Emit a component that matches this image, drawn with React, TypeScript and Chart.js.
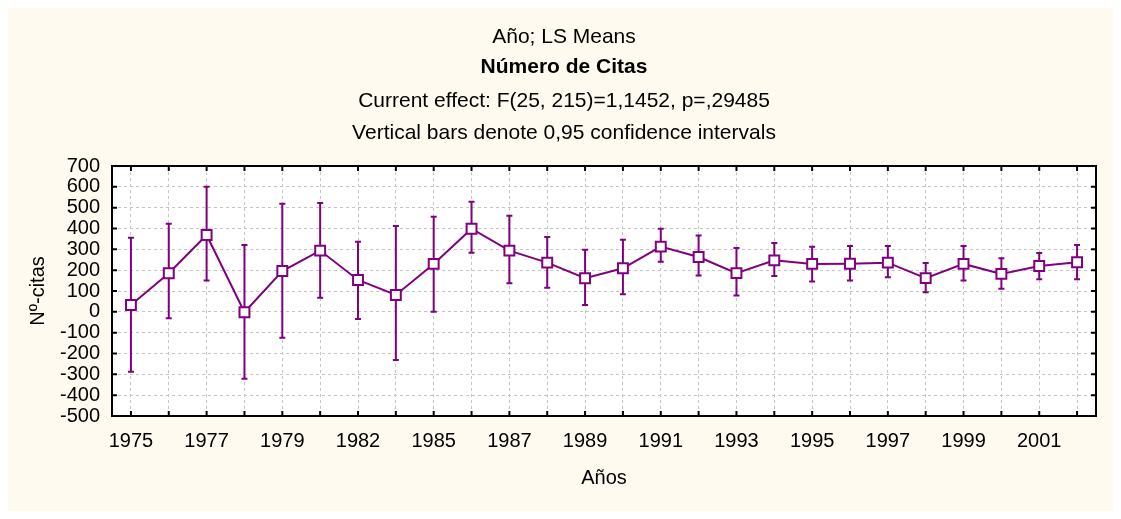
import React, { useEffect, useRef } from 'react';
import { Chart, registerables } from 'chart.js';

Chart.register(...registerables);

// Categories (years) — labels shown on every other category
const years = [
  '1975', '1976', '1977', '1978', '1979', '1981', '1982', '1984', '1985', '1986',
  '1987', '1988', '1989', '1990', '1991', '1992', '1993', '1994', '1995', '1996',
  '1997', '1998', '1999', '2000', '2001', '2002',
];

// LS means
const means = [33, 185, 369, -2, 196, 294, 153, 81, 230, 399, 294, 236, 161, 209, 313, 263, 186, 247, 230, 231, 236, 162, 230, 182, 220, 238];
// Upper 95% confidence limits
const upper = [356, 423, 601, 321, 519, 522, 337, 412, 457, 529, 461, 359, 298, 346, 399, 367, 306, 330, 313, 316, 316, 234, 316, 257, 282, 321];
// Lower 95% confidence limits
const lower = [-287, -31, 150, -321, -124, 68, -34, -231, 1, 284, 137, 116, 33, 84, 241, 174, 79, 172, 146, 150, 166, 94, 150, 111, 156, 156];

const yMin = -500;
const yMax = 700;
const yStep = 100;

const titleLines = [
  'Año; LS Means',
  'Número de Citas',
  'Current effect: F(25, 215)=1,1452, p=,29485',
  'Vertical bars denote 0,95 confidence intervals',
];
const xTitle = 'Años';
const yTitle = 'Nº-citas';

const PURPLE = '#800080';
const BG = '#FEFAEF';
const FONT = "'Liberation Sans', Arial, Helvetica, sans-serif";

export default function App() {
  const ref = useRef<HTMLCanvasElement>(null);

  useEffect(() => {
    const canvas = ref.current;
    if (!canvas) return;

    const decor = {
      id: 'decor',
      beforeDraw(chart: any) {
        const { ctx, chartArea: a, width, height } = chart;
        ctx.save();
        ctx.fillStyle = BG;
        ctx.fillRect(0, 0, width, height);
        ctx.fillStyle = '#ffffff';
        ctx.fillRect(a.left, a.top, a.right - a.left, a.bottom - a.top);
        ctx.restore();
      },
      beforeDatasetsDraw(chart: any) {
        const { ctx } = chart;
        const xs = chart.scales.x;
        const ys = chart.scales.y;
        ctx.save();
        ctx.strokeStyle = PURPLE;
        ctx.lineWidth = 2;
        for (let i = 0; i < means.length; i++) {
          const x = xs.getPixelForValue(i);
          const yu = ys.getPixelForValue(upper[i]);
          const yl = ys.getPixelForValue(lower[i]);
          ctx.beginPath();
          ctx.moveTo(x, yu);
          ctx.lineTo(x, yl);
          ctx.moveTo(x - 3, yu);
          ctx.lineTo(x + 3, yu);
          ctx.moveTo(x - 3, yl);
          ctx.lineTo(x + 3, yl);
          ctx.stroke();
        }
        ctx.restore();
      },
      afterDraw(chart: any) {
        const { ctx, chartArea: a } = chart;
        const xs = chart.scales.x;
        const ys = chart.scales.y;
        ctx.save();
        // frame
        ctx.strokeStyle = '#000';
        ctx.lineWidth = 2;
        ctx.strokeRect(a.left, a.top, a.right - a.left, a.bottom - a.top);
        // inner tick marks
        ctx.beginPath();
        for (let i = 0; i < years.length; i++) {
          const x = xs.getPixelForValue(i);
          ctx.moveTo(x, a.top);
          ctx.lineTo(x, a.top + 5);
          ctx.moveTo(x, a.bottom);
          ctx.lineTo(x, a.bottom - 5);
        }
        for (const t of ys.ticks) {
          const y = ys.getPixelForValue(t.value);
          ctx.moveTo(a.left, y);
          ctx.lineTo(a.left + 5, y);
          ctx.moveTo(a.right, y);
          ctx.lineTo(a.right - 5, y);
        }
        ctx.stroke();
        // titles
        ctx.fillStyle = '#000';
        ctx.textAlign = 'center';
        ctx.textBaseline = 'alphabetic';
        const baselines = [35, 65, 99, 131];
        titleLines.forEach((t, i) => {
          ctx.font = (i === 1 ? 'bold ' : '') + '21px ' + FONT;
          ctx.fillText(t, 556, baselines[i]);
        });
        ctx.restore();
      },
    };

    const tickFont = { family: FONT, size: 20 };

    const chart = new Chart(canvas, {
      type: 'line',
      data: {
        labels: years,
        datasets: [
          {
            data: means,
            borderColor: PURPLE,
            borderWidth: 2,
            pointStyle: 'rect',
            pointRadius: 7,
            pointBorderWidth: 2,
            pointBackgroundColor: '#ffffff',
            pointBorderColor: PURPLE,
            tension: 0,
            fill: false,
          },
        ],
      },
      options: {
        animation: false,
        responsive: false,
        devicePixelRatio: 1,
        layout: { padding: { top: 158, right: 17, bottom: 0, left: 0 } },
        plugins: {
          legend: { display: false },
          tooltip: { enabled: false },
          title: { display: false },
        },
        scales: {
          x: {
            type: 'category',
            offset: true,
            grid: { offset: false, color: '#c4c4c4', lineWidth: 1, drawTicks: false },
            border: { display: false, dash: [3, 3] },
            ticks: {
              autoSkip: false,
              maxRotation: 0,
              minRotation: 0,
              padding: 13,
              color: '#000',
              font: tickFont,
              callback: (_v: any, i: number) => (i % 2 === 0 ? years[i] : ''),
            },
            title: {
              display: true,
              text: xTitle,
              color: '#000',
              font: tickFont,
              padding: { top: 0, bottom: 21 },
            },
            afterFit: (s: any) => {
              s.height = 95;
            },
          },
          y: {
            type: 'linear',
            min: yMin,
            max: yMax,
            grid: { color: '#c4c4c4', lineWidth: 1, drawTicks: false },
            border: { display: false, dash: [3, 3] },
            ticks: {
              stepSize: yStep,
              autoSkip: false,
              padding: 12,
              color: '#000',
              font: tickFont,
            },
            title: {
              display: true,
              text: yTitle,
              color: '#000',
              font: tickFont,
              padding: { top: 18, bottom: 0 },
            },
            afterFit: (s: any) => {
              s.width = 104;
            },
          },
        },
      },
      plugins: [decor],
    } as any);

    return () => chart.destroy();
  }, []);

  return (
    <div style={{ width: 1105, height: 503 }}>
      <canvas ref={ref} width={1105} height={503} style={{ display: 'block', width: 1105, height: 503 }} />
    </div>
  );
}
